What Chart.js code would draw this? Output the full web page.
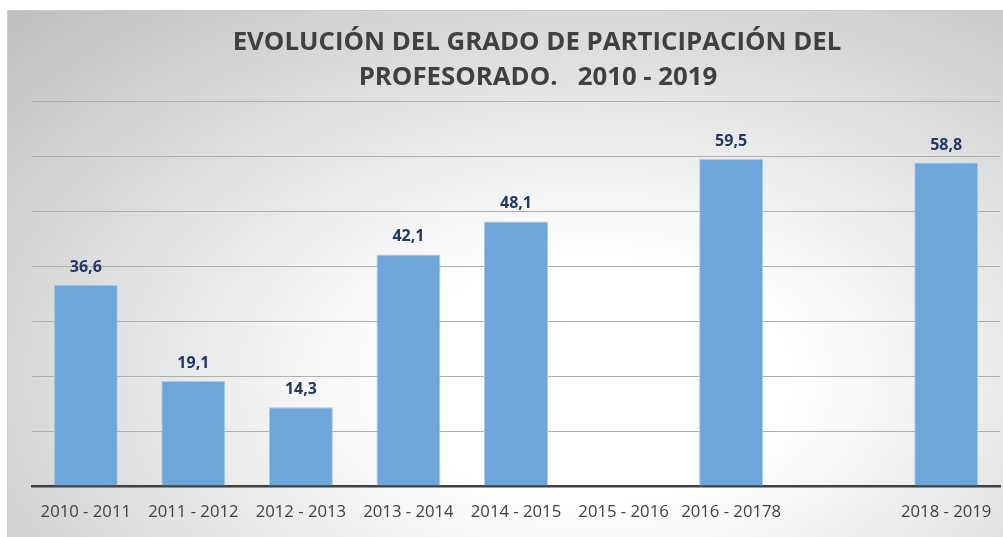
<!DOCTYPE html>
<html><head><meta charset="utf-8">
<script src="https://cdn.jsdelivr.net/npm/chart.js@4.4.1/dist/chart.umd.min.js"></script>
<style>
html,body{margin:0;padding:0;background:#fff;width:1003px;height:537px;overflow:hidden;}
#bg{position:absolute;left:7px;top:10px;width:996px;height:527px;
 border-top:1px solid #c8c8c8;border-left:1px solid #d0d0d0;box-sizing:border-box;
 background:radial-gradient(ellipse farthest-corner at 59% 70%, #ffffff 0%, #ffffff 24%, #bebebe 100%);}
#wrap{position:absolute;left:0;top:0;width:1003px;height:537px;}
</style></head>
<body>
<div id="bg"></div>
<div id="wrap"><canvas id="c" width="1003" height="537"></canvas></div>
<script>
const categories = ["2010 - 2011","2011 - 2012","2012 - 2013","2013 - 2014","2014 - 2015","2015 - 2016","2016 - 20178","","2018 - 2019"];
const values = [36.6, 19.1, 14.3, 42.1, 48.1, null, 59.5, null, 58.8];
const valueLabels = ["36,6","19,1","14,3","42,1","48,1","","59,5","","58,8"];
const titleLines = ["EVOLUCIÓN DEL GRADO DE PARTICIPACIÓN DEL","PROFESORADO.   2010 - 2019"];

const titlePlugin = {
  id:'titlePlugin',
  afterDraw(chart){
    const ctx = chart.ctx;
    ctx.save();
    ctx.fillStyle = '#404040';
    ctx.font = 'bold 25.8px "Open Sans"';
    ctx.textAlign = 'center';
    ctx.textBaseline = 'alphabetic';
    ctx.fillText(titleLines[0], 537, 50);
    ctx.fillText(titleLines[1], 538, 85);
    ctx.restore();
  }
};
const labelPlugin = {
  id:'labelPlugin',
  afterDatasetsDraw(chart){
    const ctx = chart.ctx;
    const meta = chart.getDatasetMeta(0);
    ctx.save();
    ctx.fillStyle = '#1f3864';
    ctx.font = 'bold 16px "Open Sans"';
    ctx.textAlign = 'center';
    ctx.textBaseline = 'alphabetic';
    meta.data.forEach((bar,i)=>{
      if (values[i] == null) return;
      ctx.fillText(valueLabels[i], bar.x, bar.y - 13);
    });
    ctx.restore();
  }
};

new Chart(document.getElementById('c'), {
  type:'bar',
  data:{
    labels: categories,
    datasets:[{
      data: values,
      backgroundColor:'#6fa6da',
      borderColor:'#a9cbeb',
      borderWidth:1,
      categoryPercentage:1,
      barPercentage:0.595
    }]
  },
  options:{
    responsive:false,
    animation:false,
    layout:{padding:{left:32,right:3,top:101,bottom:0}},
    plugins:{legend:{display:false},tooltip:{enabled:false},title:{display:false}},
    scales:{
      x:{
        afterFit(scale){ scale.paddingLeft = 0; scale.paddingRight = 0; scale.height = 51; },
        grid:{display:false,drawTicks:false},
        border:{display:true,color:'#404040',width:2.5},
        ticks:{color:'#404040',font:{family:'"Open Sans"',size:16.7,lineHeight:1},padding:18,maxRotation:0,autoSkip:false}
      },
      y:{
        min:0,max:70,
        ticks:{display:false,stepSize:10},
        grid:{color:'#aeaeae',lineWidth:1,drawTicks:false},
        border:{display:false}
      }
    }
  },
  plugins:[titlePlugin,labelPlugin]
});
</script>
</body></html>
